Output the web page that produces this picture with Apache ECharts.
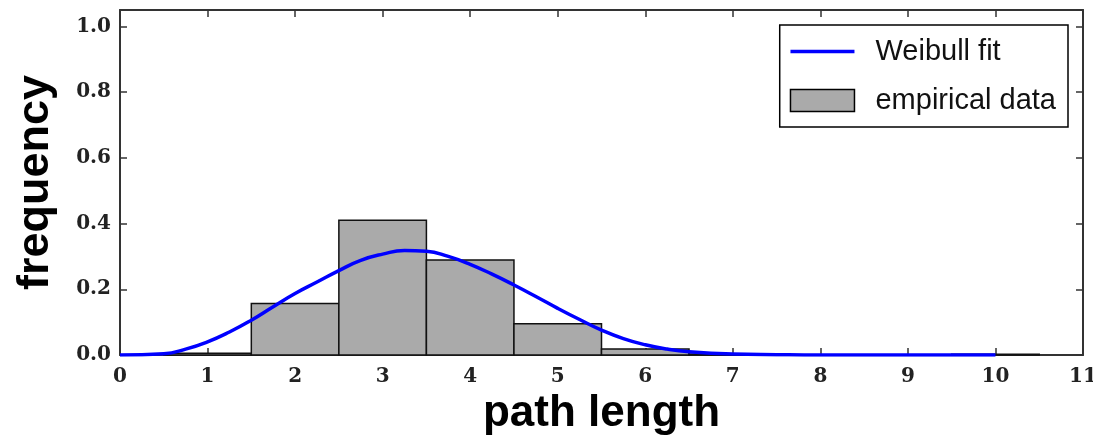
<!DOCTYPE html>
<html>
<head>
<meta charset="utf-8">
<script src="https://cdn.jsdelivr.net/npm/echarts@6/dist/echarts.min.js"></script>
<style>html,body{margin:0;padding:0;background:#fff;overflow:hidden;}#c{width:1093px;height:435px;}</style>
</head>
<body>
<div id="c"></div>
<script>
// Histogram bins (centres, width 1) and frequencies
const binCenters = [1, 2, 3, 4, 5, 6, 7, 8, 9, 10];
const binFreq = [0.005, 0.157, 0.41, 0.289, 0.095, 0.018, 0.003, 0, 0, 0.002];
const binWidth = 1;
// Weibull fit curve
const fitX = [0, 0.5, 0.75, 1.0, 1.25, 1.5, 1.75, 2.0, 2.25, 2.5, 2.75, 3.0, 3.25, 3.5, 3.75, 4.0, 4.25, 4.5, 4.75, 5.0, 5.25, 5.5, 5.75, 6.0, 6.25, 6.5, 7.0, 7.5, 8, 9, 10];
const fitY = [0, 0.004, 0.018, 0.04, 0.07, 0.106, 0.147, 0.187, 0.222, 0.257, 0.288, 0.307, 0.318, 0.316, 0.3, 0.276, 0.246, 0.213, 0.178, 0.142, 0.108, 0.076, 0.05, 0.031, 0.018, 0.01, 0.003, 0.001, 0, 0, 0];
const xTicks = [0, 1, 2, 3, 4, 5, 6, 7, 8, 9, 10, 11];
const yTicks = [0.0, 0.2, 0.4, 0.6, 0.8, 1.0];

const chart = echarts.init(document.getElementById('c'), null, {renderer: 'canvas'});
const tickFont = {fontFamily: 'DejaVu Serif', fontSize: 20, fontWeight: 'bold', color: '#222'};
const axisLine = {show: true, onZero: false, lineStyle: {color: '#333', width: 2}};
const axisTick = {show: true, inside: true, length: 7, lineStyle: {color: '#333', width: 1.5}};

const xBase = {type: 'value', min: xTicks[0], max: xTicks[xTicks.length - 1], interval: 1,
  axisLine: axisLine, axisTick: axisTick, splitLine: {show: false}};
const yBase = {type: 'value', min: 0, max: 1.05, interval: 0.2,
  axisLine: axisLine, axisTick: axisTick, splitLine: {show: false}};

chart.setOption({
  animation: false,
  backgroundColor: '#fff',
  grid: {left: 120, right: 10, top: 10, bottom: 80, containLabel: false, outerBoundsMode: 'none'},
  legend: {
    orient: 'vertical', right: 25, top: 25,
    backgroundColor: '#fff', borderColor: '#000', borderWidth: 1.5, borderRadius: 0,
    padding: [12, 12, 12, 10], itemGap: 20, itemWidth: 64, itemHeight: 22,
    textStyle: {fontFamily: 'Liberation Sans', fontSize: 29, color: '#111', padding: [0, 0, 0, 16]},
    data: [
      {name: 'Weibull fit', icon: 'path://M0,0H64V3.5H0Z', itemStyle: {color: '#0000ff'}},
      {name: 'empirical data', icon: 'rect', itemStyle: {color: '#aaaaaa', borderColor: '#000', borderWidth: 1.5}}
    ]
  },
  xAxis: [
    Object.assign({}, xBase, {position: 'bottom',
      name: 'path length', nameLocation: 'middle', nameGap: 32,
      nameTextStyle: {fontFamily: 'Liberation Sans', fontSize: 44, fontWeight: 'bold', color: '#000'},
      axisLabel: Object.assign({margin: 12}, tickFont)}),
    Object.assign({}, xBase, {position: 'top', axisLabel: {show: false}})
  ],
  yAxis: [
    Object.assign({}, yBase, {position: 'left',
      name: 'frequency', nameLocation: 'middle', nameGap: 62,
      nameTextStyle: {fontFamily: 'Liberation Sans', fontSize: 45, fontWeight: 'bold', color: '#000'},
      axisLabel: Object.assign({margin: 9, showMaxLabel: false, formatter: v => v.toFixed(1)}, tickFont)}),
    Object.assign({}, yBase, {position: 'right', axisLabel: {show: false}})
  ],
  series: [
    {
      name: 'empirical data', type: 'custom', xAxisIndex: 0, yAxisIndex: 0, z: 2,
      itemStyle: {color: '#aaaaaa', borderColor: '#000', borderWidth: 1.5},
      data: binCenters.map((c, i) => [c, binFreq[i]]),
      renderItem: function (params, api) {
        const c = api.value(0), v = api.value(1);
        const p0 = api.coord([c - binWidth / 2, v]);
        const p1 = api.coord([c + binWidth / 2, 0]);
        return {type: 'rect', shape: {x: p0[0], y: p0[1], width: p1[0] - p0[0], height: p1[1] - p0[1]},
          style: {fill: '#aaaaaa', stroke: '#111', lineWidth: 1.5}};
      }
    },
    {
      name: 'Weibull fit', type: 'line', xAxisIndex: 0, yAxisIndex: 0, z: 3,
      smooth: true, showSymbol: false, symbol: 'none',
      lineStyle: {color: '#0000ff', width: 3.5}, itemStyle: {color: '#0000ff'},
      data: fitX.map((x, i) => [x, fitY[i]])
    }
  ]
});
</script>
</body>
</html>
